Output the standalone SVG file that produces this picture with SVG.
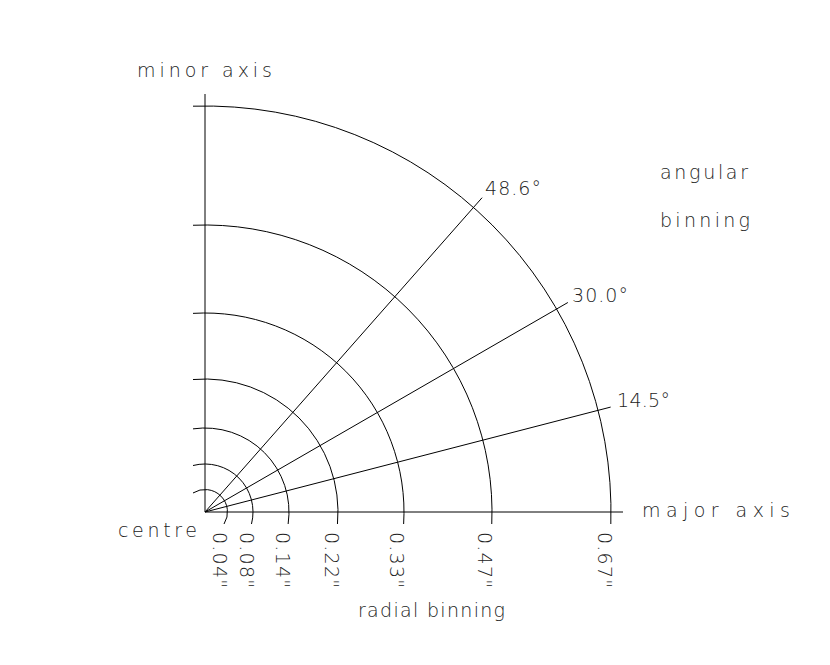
<svg xmlns="http://www.w3.org/2000/svg" width="830" height="665" viewBox="0 0 830 665">
<style>
.ax{stroke:#000;stroke-width:1;fill:none}
.arc{stroke:#000;stroke-width:1;fill:none}
.ray{stroke:#000;stroke-width:1;fill:none}
text{font-family:"DejaVu Sans","Liberation Sans",sans-serif;font-weight:200;font-size:19px;fill:#222}
</style>
<rect width="830" height="665" fill="#fff"/>
<g id="connectors">
<line class="ax" x1="205" y1="512" x2="205" y2="94"/>
<line class="ax" x1="205" y1="512" x2="623" y2="512"/>
<path class="arc" d="M193,492.97 A22.5,22.5 0 0 1 224.03,524"/>
<path class="arc" d="M193,465.52 A48,48 0 0 1 251.48,524"/>
<path class="arc" d="M193,428.86 A84,84 0 0 1 288.14,524"/>
<path class="arc" d="M193,379.54 A133,133 0 0 1 337.46,524"/>
<path class="arc" d="M193,313.36 A199,199 0 0 1 403.64,524"/>
<path class="arc" d="M193,225.25 A287,287 0 0 1 491.75,524"/>
<path class="arc" d="M193,106.18 A406,406 0 0 1 610.82,524"/>
<line class="ray" x1="205" y1="512" x2="610.65" y2="407.09"/>
<line class="ray" x1="205" y1="512" x2="567.86" y2="302.5"/>
<line class="ray" x1="205" y1="512" x2="482.09" y2="197.7"/>
</g>
<g id="axis-labels">
<text x="137" y="77" textLength="135" lengthAdjust="spacing">minor axis</text>
<text x="642" y="517" textLength="148" lengthAdjust="spacing">major axis</text>
<text x="118" y="537" textLength="79" lengthAdjust="spacing">centre</text>
<text x="358" y="617" textLength="147" lengthAdjust="spacing">radial binning</text>
<text x="660" y="179" textLength="88" lengthAdjust="spacing">angular</text>
<text x="660" y="227" textLength="90" lengthAdjust="spacing">binning</text>
</g>
<g id="angle-labels">
<text x="485" y="195" textLength="56" lengthAdjust="spacing">48.6°</text>
<text x="572" y="302" textLength="56" lengthAdjust="spacing">30.0°</text>
<text x="617" y="407" textLength="53" lengthAdjust="spacing">14.5°</text>
</g>
<g id="radius-labels">
<text transform="translate(213,532) rotate(90)" textLength="56" lengthAdjust="spacing">0.04&quot;</text>
<text transform="translate(240,532) rotate(90)" textLength="56" lengthAdjust="spacing">0.08&quot;</text>
<text transform="translate(276,532) rotate(90)" textLength="56" lengthAdjust="spacing">0.14&quot;</text>
<text transform="translate(325,532) rotate(90)" textLength="56" lengthAdjust="spacing">0.22&quot;</text>
<text transform="translate(390,532) rotate(90)" textLength="56" lengthAdjust="spacing">0.33&quot;</text>
<text transform="translate(478,532) rotate(90)" textLength="56" lengthAdjust="spacing">0.47&quot;</text>
<text transform="translate(598,532) rotate(90)" textLength="56" lengthAdjust="spacing">0.67&quot;</text>
</g>
</svg>
